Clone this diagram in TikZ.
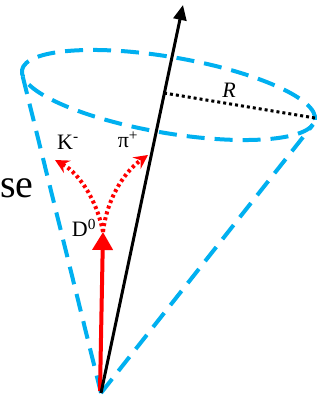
\documentclass[tikz,border=0pt]{standalone}
\usepackage{fontspec}
\setmainfont{Liberation Serif}
\usetikzlibrary{arrows.meta}
\definecolor{coneBlue}{RGB}{0,176,240}

\begin{document}
\begin{tikzpicture}[
  x=1pt, y=1pt,
  cone/.style={draw=coneBlue, line width=4pt, dash pattern=on 18pt off 10pt},
  jet/.style={draw=black, line width=3pt, -{Triangle[length=15pt,width=13pt]}},
  track/.style={draw=red, line width=4pt, -{Triangle[length=18pt,width=20pt]}},
  daughter/.style={draw=red, line width=4pt, dash pattern=on 3pt off 3pt,
    -{Stealth[length=14pt,width=14pt,inset=5pt]}},
  rline/.style={draw=black, line width=3pt, dash pattern=on 3pt off 3pt},
  lbl/.style={font=\fontsize{22}{24}\selectfont, inner sep=0pt}
]
\useasboundingbox (0,0) rectangle (321,403);
\coordinate (apex) at (101,10);
\coordinate (jettip) at (183,398);
\coordinate (centre) at (168.5,308);
\coordinate (rimL) at (22.2,328.7);
\coordinate (rimR) at (312.7,278.1);
\coordinate (axis) at (164,310);
\coordinate (rimpt) at (315,285);
\coordinate (dstart) at (100,12);
\coordinate (dzero) at (103,171);
\coordinate (kend) at (55,243);
\coordinate (piend) at (148,248);

% jet cone
\draw[cone, rotate around={-9.68:(centre)}] (centre) ellipse [x radius=148.6, y radius=38];
\draw[cone] (apex) -- (rimL);
\draw[cone] (apex) -- (rimR);
\draw[rline] (axis) -- (rimpt);
\node[lbl, font=\fontsize{22}{24}\selectfont\itshape] (rlabel) at (229,313) {R};

% D0 and its decay
\draw[track] (dstart) -- (dzero);
\draw[daughter] (dzero) .. controls (98,198) and (82,228) .. (kend);
\draw[daughter] (dzero) .. controls (106,198) and (120,228) .. (piend);
\node[lbl] (kminus) at (68,261) {K\textsuperscript{-}};
\node[lbl] (piplus) at (128,263) {π\textsuperscript{+}};
\node[lbl] (dlabel) at (84,175) {D\textsuperscript{0}};

% jet axis
\draw[jet] (apex) -- (jettip);

\node[anchor=base west, font=\fontsize{40}{40}\selectfont, inner sep=0pt] (word) at (0,205) {se};
\end{tikzpicture}
\end{document}
